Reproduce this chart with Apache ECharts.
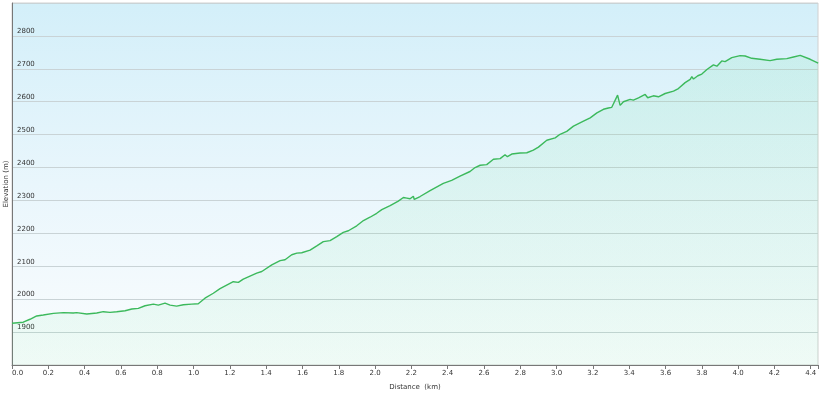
<!DOCTYPE html>
<html><head><meta charset="utf-8">
<script src="https://cdn.jsdelivr.net/npm/echarts@6/dist/echarts.min.js"></script>
<style>html,body{margin:0;padding:0;background:#fff}#c{width:825px;height:394px}</style>
</head><body><div id="c"></div>
<script>
const distKm = [0.000,0.062,0.099,0.136,0.172,0.228,0.283,0.338,0.356,0.412,0.467,0.503,0.540,0.577,0.623,0.660,0.696,0.733,0.779,0.806,0.843,0.871,0.907,0.944,0.990,1.026,1.063,1.109,1.146,1.219,1.247,1.274,1.348,1.376,1.431,1.477,1.504,1.541,1.569,1.596,1.642,1.679,1.715,1.752,1.789,1.825,1.853,1.899,1.936,1.972,2.009,2.037,2.083,2.128,2.156,2.175,2.184,2.193,2.211,2.216,2.248,2.303,2.376,2.422,2.468,2.523,2.551,2.579,2.615,2.652,2.689,2.716,2.729,2.753,2.799,2.836,2.872,2.900,2.946,2.992,3.019,3.056,3.093,3.148,3.185,3.222,3.258,3.285,3.304,3.336,3.350,3.368,3.405,3.423,3.451,3.488,3.502,3.533,3.561,3.598,3.644,3.671,3.708,3.736,3.745,3.754,3.778,3.800,3.828,3.864,3.883,3.910,3.928,3.965,4.011,4.039,4.048,4.075,4.121,4.176,4.213,4.268,4.305,4.342,4.397,4.441];
const elevM = [1927,1930,1939,1949,1952,1957,1959,1958,1959,1955,1958,1962,1960,1962,1965,1970,1972,1980,1985,1982,1988,1982,1979,1983,1985,1986,2003,2018,2032,2053,2051,2061,2079,2084,2104,2117,2120,2135,2140,2141,2149,2162,2175,2178,2190,2203,2208,2223,2239,2249,2261,2272,2284,2298,2309,2307,2312,2305,2313,2303,2312,2330,2352,2361,2374,2388,2400,2407,2409,2425,2427,2439,2433,2441,2444,2445,2453,2462,2483,2490,2501,2510,2526,2541,2551,2566,2577,2581,2583,2620,2589,2600,2607,2605,2612,2622,2612,2618,2615,2625,2632,2640,2658,2668,2676,2669,2679,2684,2698,2712,2708,2724,2722,2734,2740,2739,2743,2732,2729,2725,2729,2731,2736,2741,2729,2717];
const xName = 'Distance  (km)';
const yName = 'Elevation (m)';

const font = 'DejaVu Sans';
const chart = echarts.init(document.getElementById('c'), null, {renderer:'canvas'});
chart.setOption({
  animation:false,
  grid:{left:12,right:7,top:3,bottom:29,containLabel:false,outerBoundsMode:'none',show:true,borderColor:'#d0d0d0',borderWidth:1,
    backgroundColor:new echarts.graphic.LinearGradient(0,0,0,1,[{offset:0,color:'#d3eff9'},{offset:0.5,color:'#e9f6fc'},{offset:1,color:'#fbfdfe'}])},
  graphic:[{type:'text',x:6,y:184,rotation:Math.PI/2,z:100,
    style:{text:yName,fontFamily:font,fontSize:7,fill:'#333',align:'center',verticalAlign:'middle'}}],
  xAxis:{type:'value',min:0,max:4.44,interval:0.2,
    name:xName,nameLocation:'middle',nameGap:19,nameTextStyle:{fontFamily:font,fontSize:7,color:'#333'},
    axisLine:{show:true,lineStyle:{color:'#777',width:1}},
    axisTick:{show:true,length:4,lineStyle:{color:'#777'}},
    splitLine:{show:false},
    axisLabel:{fontFamily:font,fontSize:7,color:'#333',margin:5,alignMinLabel:'left',
      formatter:v=>{const k=v*5;return Math.abs(k-Math.round(k))<1e-6?v.toFixed(1):'';}}
  },
  yAxis:{type:'value',min:1800,max:2900,interval:100,
    axisLine:{show:true,lineStyle:{color:'#777',width:1}},
    axisTick:{show:false},
    splitLine:{show:true,lineStyle:{color:'#c9d3d6',width:1}},
    axisLabel:{inside:true,showMinLabel:false,showMaxLabel:false,fontFamily:font,fontSize:7,color:'#333',margin:5,verticalAlign:'bottom',padding:[0,0,1,0],
      formatter:v=>String(Math.round(v))}
  },
  series:[{type:'line',data:distKm.map((d,i)=>[d,elevM[i]]),showSymbol:false,symbol:'none',
    lineStyle:{color:'#3cb95c',width:1.4},
    areaStyle:{origin:'start',color:new echarts.graphic.LinearGradient(0,0,0,1,[{offset:0,color:'rgba(60,215,120,0.14)'},{offset:1,color:'rgba(60,215,120,0.09)'}])}
  }]
});
</script></body></html>
